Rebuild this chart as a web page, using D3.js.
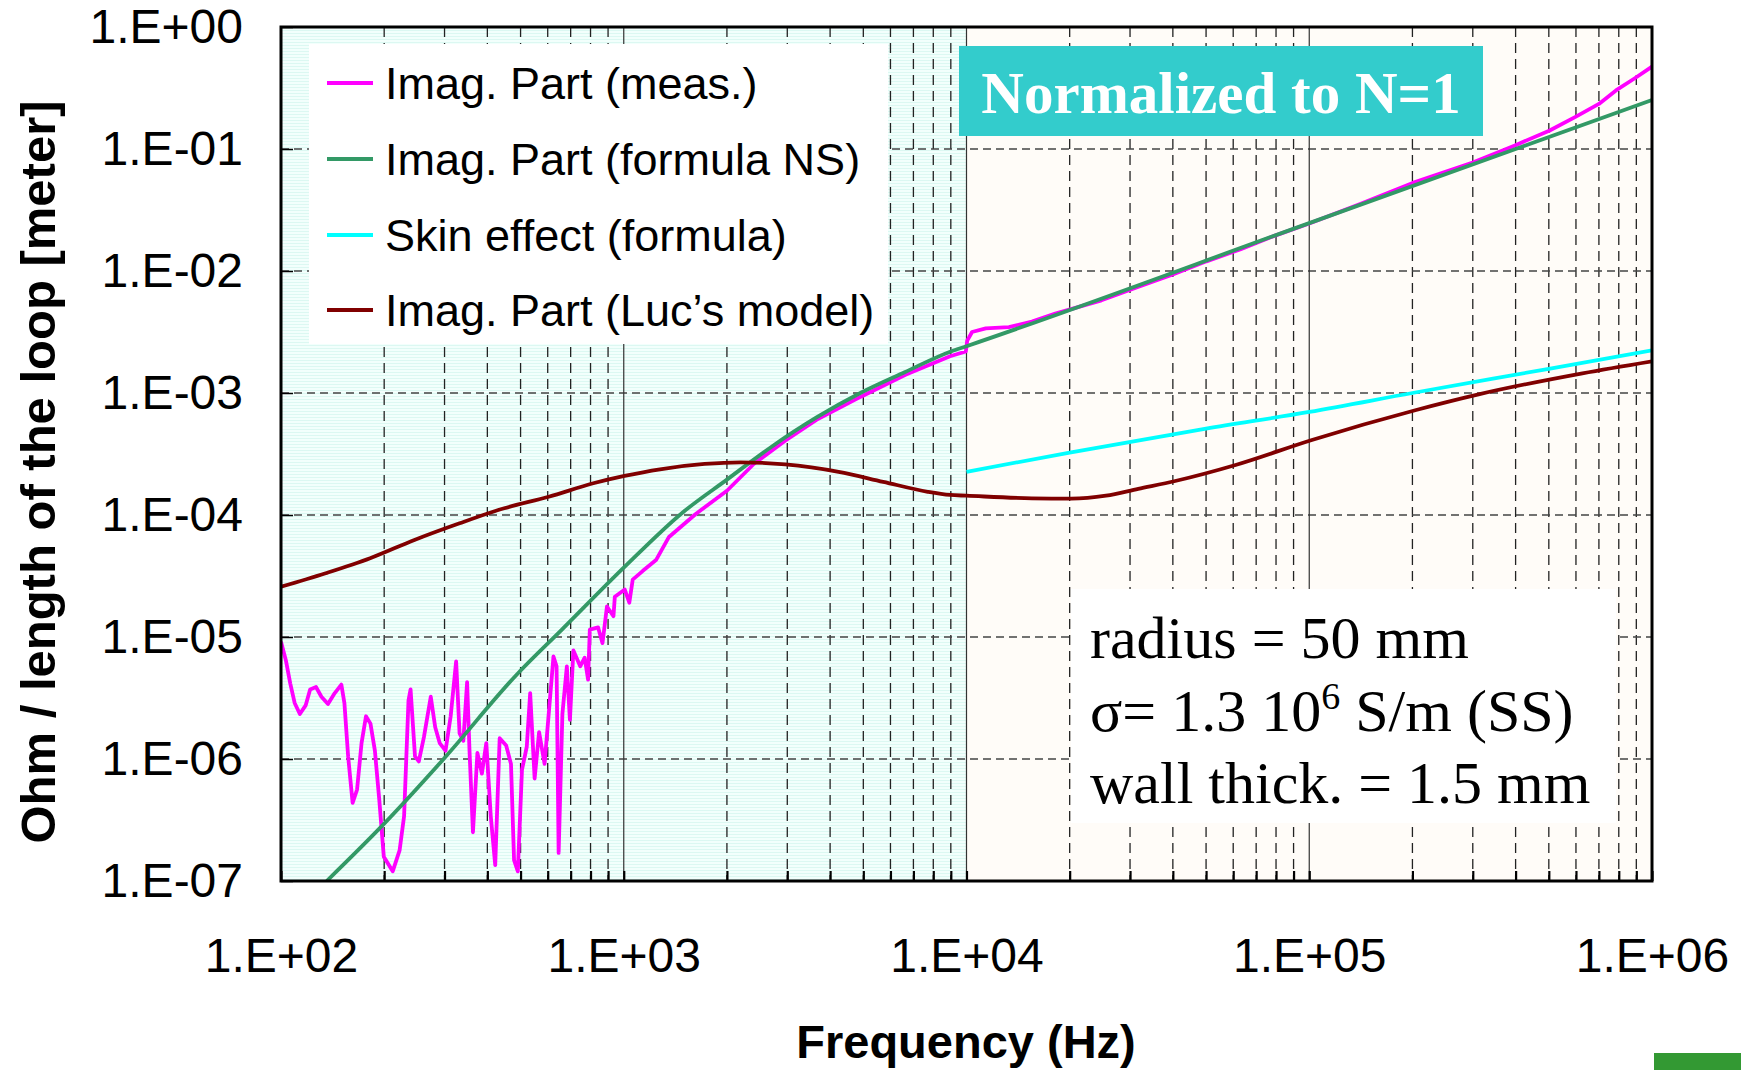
<!DOCTYPE html>
<html>
<head>
<meta charset="utf-8">
<script src="https://cdn.jsdelivr.net/npm/d3@7"></script>
<style>
  body { margin: 0; background: #fff; }
  svg { display: block; }
</style>
</head>
<body>
<script>
// Imag. Part (meas.)
var measFreq = [100, 103.3, 106.4, 109.6, 113.5, 118.0, 121.6, 126.5, 131.2, 137.1,
  143.5, 150.0, 153.1, 157.0, 161.8, 166.7, 171.8, 177.0, 182.4, 187.9,
  193.6, 199.5, 211.8, 221.8, 228.6, 235.5, 238.8, 246.0, 252.4, 261.2,
  273.5, 281.8, 290.4, 302.0, 312.6, 324.3, 331.9, 340.4, 349.1, 354.8,
  363.1, 374.1, 385.5, 397.2, 409.3, 421.7, 434.5, 453.9, 468.8, 478.6,
  490.9, 504.7, 521.2, 533.3, 549.5, 566.2, 587.5, 605.3, 623.7, 636.8,
  645.7, 662.2, 682.3, 696.6, 712.9, 746.4, 769.1, 787.0, 796.2, 841.4,
  867.0, 893.3, 933.3, 941.9, 1007, 1038, 1062, 1135, 1242, 1355,
  1622, 2000, 2399, 2958, 3648, 4920, 6637, 8954, 9954, 10050,
  10380, 11380, 13300, 15520, 18160, 24770, 31620, 39810, 50120, 63100,
  79430, 100000, 141300, 199500, 300000, 398100, 501200, 600000, 700000, 785000,
  891000, 1000000];
var measVal = [9.16e-6, 6.46e-6, 4.17e-6, 2.88e-6, 2.34e-6, 2.75e-6, 3.72e-6, 3.89e-6, 3.24e-6, 2.82e-6,
  3.47e-6, 4.07e-6, 2.88e-6, 1.05e-6, 4.37e-7, 5.62e-7, 1.35e-6, 2.24e-6, 1.95e-6, 1.17e-6,
  4.57e-7, 1.58e-7, 1.20e-7, 1.78e-7, 3.39e-7, 3.02e-6, 3.72e-6, 1.05e-6, 9.55e-7, 1.51e-6,
  3.24e-6, 1.82e-6, 1.35e-6, 1.17e-6, 2.24e-6, 6.31e-6, 1.62e-6, 1.41e-6, 4.27e-6, 1.17e-6,
  2.51e-7, 1.12e-6, 7.59e-7, 1.35e-6, 3.39e-7, 1.35e-7, 1.48e-6, 1.29e-6, 9.12e-7, 1.48e-7,
  1.20e-7, 8.13e-7, 1.26e-6, 3.47e-6, 6.92e-7, 1.66e-6, 9.12e-7, 2.51e-6, 6.92e-6, 5.75e-6,
  1.70e-7, 2.34e-6, 5.75e-6, 2.09e-6, 7.76e-6, 5.75e-6, 6.76e-6, 4.47e-6, 1.15e-5, 1.20e-5,
  8.91e-6, 1.78e-5, 1.48e-5, 2.14e-5, 2.45e-5, 1.91e-5, 2.95e-5, 3.47e-5, 4.27e-5, 6.61e-5,
  1.02e-4, 1.58e-4, 2.63e-4, 4.07e-4, 6.03e-4, 9.33e-4, 1.41e-3, 2.00e-3, 2.19e-3, 2.69e-3,
  3.16e-3, 3.39e-3, 3.47e-3, 3.85e-3, 4.47e-3, 5.75e-3, 7.41e-3, 9.33e-3, 1.20e-2, 1.51e-2,
  1.95e-2, 2.45e-2, 3.55e-2, 5.25e-2, 7.76e-2, 0.107, 0.141, 0.184, 0.234, 0.302,
  0.380, 0.473];

// Imag. Part (formula NS)
var nsFreq = [136, 200, 300, 490, 660, 1000, 1486, 2000, 2700, 3650, 4900, 6600, 9000, 10000, 100000, 1000000];
var nsVal = [1.0e-7, 2.95e-7, 1.02e-6, 5.0e-6, 1.15e-5, 3.7e-5, 1.05e-4, 1.95e-4, 3.63e-4, 6.3e-4, 1.0e-3, 1.48e-3, 2.19e-3, 2.42e-3, 2.47e-2, 0.252];

// Skin effect (formula)
var skinFreq = [10000, 20000, 50000, 100000, 200000, 500000, 1000000];
var skinVal = [2.26e-4, 3.25e-4, 5.1e-4, 7.0e-4, 1.0e-3, 1.58e-3, 2.24e-3];

// Imag. Part (Luc's model)
var lucFreq = [100, 135, 182, 245, 332, 448, 604, 815, 1005, 1276,
  1722, 2193, 2958, 4236, 5715, 7709, 8954, 10000, 15520, 20230,
  25530, 31700, 40650, 60950, 101800, 205100, 311900, 626600, 1000000];
var lucVal = [2.58e-5, 3.33e-5, 4.42e-5, 6.24e-5, 8.55e-5, 1.135e-4, 1.41e-4, 1.82e-4, 2.09e-4, 2.37e-4,
  2.62e-4, 2.70e-4, 2.60e-4, 2.26e-4, 1.87e-4, 1.55e-4, 1.46e-4, 1.44e-4, 1.37e-4, 1.36e-4,
  1.44e-4, 1.64e-4, 1.90e-4, 2.57e-4, 4.12e-4, 7.26e-4, 9.75e-4, 1.45e-3, 1.82e-3];

var seriesNames = ['Imag. Part (meas.)', 'Imag. Part (formula NS)', 'Skin effect (formula)', 'Imag. Part (Luc\u2019s model)'];
var seriesColors = ['#ff00ff', '#339966', '#00ffff', '#800000'];

var xDomain = [1e2, 1e6],
  yDomain = [1e-7, 1];
var splitFreq = 1e4; // shading changes at 10 kHz

var annotationLines = ['radius = 50 mm', 'wall thick. = 1.5 mm'];

var margin = { top: 27, right: 89, bottom: 189, left: 281 },
  width = 1741 - margin.left - margin.right,
  height = 1070 - margin.top - margin.bottom;

var sans = '"Liberation Sans", Arial, sans-serif',
  serif = '"Liberation Serif", "Times New Roman", serif';

var svgRoot = d3
  .select('body')
  .append('svg')
  .attr('width', 1741)
  .attr('height', 1070);

var defs = svgRoot.append('defs');
var stripes = defs
  .append('pattern')
  .attr('id', 'stripes')
  .attr('patternUnits', 'userSpaceOnUse')
  .attr('width', 8)
  .attr('height', 3);
stripes.append('rect').attr('width', 8).attr('height', 3).attr('fill', '#f2fffc');
stripes.append('rect').attr('width', 8).attr('height', 1).attr('fill', '#dcf8f2');

defs
  .append('clipPath')
  .attr('id', 'plotclip')
  .append('rect')
  .attr('width', width)
  .attr('height', height);

var svg = svgRoot
  .append('g')
  .attr('transform', 'translate(' + margin.left + ',' + margin.top + ')');

var x = d3.scaleLog().domain(xDomain).range([0, width]);
var y = d3.scaleLog().domain(yDomain).range([height, 0]);

// background shading
svg
  .append('rect')
  .attr('x', 0)
  .attr('y', 0)
  .attr('width', x(splitFreq))
  .attr('height', height)
  .attr('fill', 'url(#stripes)');
svg
  .append('rect')
  .attr('x', x(splitFreq))
  .attr('y', 0)
  .attr('width', width - x(splitFreq))
  .attr('height', height)
  .attr('fill', '#fffcf8');

// grid
var decadesX = [1e3, 1e4, 1e5];
var minorX = [];
for (var e = 2; e < 6; e++) {
  for (var m = 2; m <= 9; m++) minorX.push(m * Math.pow(10, e));
}
var decadesY = [1e-6, 1e-5, 1e-4, 1e-3, 1e-2, 1e-1];

var grid = svg.append('g').attr('class', 'grid');
grid
  .selectAll('line.minor')
  .data(minorX)
  .enter()
  .append('line')
  .attr('class', 'minor')
  .attr('x1', d => x(d))
  .attr('x2', d => x(d))
  .attr('y1', 0)
  .attr('y2', height)
  .attr('stroke', '#222')
  .attr('stroke-width', 1.3)
  .attr('stroke-dasharray', '10,6');
grid
  .selectAll('line.hgrid')
  .data(decadesY)
  .enter()
  .append('line')
  .attr('class', 'hgrid')
  .attr('x1', 0)
  .attr('x2', width)
  .attr('y1', d => y(d))
  .attr('y2', d => y(d))
  .attr('stroke', '#444')
  .attr('stroke-width', 1.5)
  .attr('stroke-dasharray', '8,5');
grid
  .selectAll('line.major')
  .data(decadesX)
  .enter()
  .append('line')
  .attr('class', 'major')
  .attr('x1', d => x(d))
  .attr('x2', d => x(d))
  .attr('y1', 0)
  .attr('y2', height)
  .attr('stroke', '#333')
  .attr('stroke-width', 1.2);

// white boxes over the grid
svg
  .append('rect')
  .attr('x', 309 - margin.left)
  .attr('y', 44 - margin.top)
  .attr('width', 579)
  .attr('height', 300)
  .attr('fill', '#fff');
svg
  .append('rect')
  .attr('x', 1071 - margin.left)
  .attr('y', 589 - margin.top)
  .attr('width', 545)
  .attr('height', 234)
  .attr('fill', '#fff');

// series
var series = [
  { f: measFreq, v: measVal, curve: d3.curveLinear },
  { f: nsFreq, v: nsVal, curve: d3.curveMonotoneX },
  { f: skinFreq, v: skinVal, curve: d3.curveMonotoneX },
  { f: lucFreq, v: lucVal, curve: d3.curveMonotoneX }
];

var plot = svg.append('g').attr('clip-path', 'url(#plotclip)');
series.forEach(function(s, i) {
  var pts = s.f.map(function(f, j) {
    return [f, s.v[j]];
  });
  var line = d3
    .line()
    .x(d => x(d[0]))
    .y(d => y(d[1]))
    .curve(s.curve);
  plot
    .append('path')
    .datum(pts)
    .attr('d', line)
    .attr('fill', 'none')
    .attr('stroke', seriesColors[i])
    .attr('stroke-width', 3.8)
    .attr('stroke-linejoin', 'round');
});

// axes
function sciLabel(d) {
  var ex = Math.round(Math.log10(d));
  var a = Math.abs(ex);
  return '1.E' + (ex < 0 ? '-' : '+') + (a < 10 ? '0' : '') + a;
}
function isDecade(d) {
  return Math.abs(Math.log10(d) - Math.round(Math.log10(d))) < 1e-9;
}

var xTicks = [1e2].concat(minorX, decadesX, [1e6]).sort((a, b) => a - b);
var xAxis = svg
  .append('g')
  .attr('transform', 'translate(0,' + height + ')')
  .call(
    d3
      .axisBottom(x)
      .tickValues(xTicks)
      .tickSizeInner(-10)
      .tickSizeOuter(0)
      .tickPadding(57)
      .tickFormat(d => (isDecade(d) ? sciLabel(d) : ''))
  );
xAxis.select('.domain').remove();
xAxis.selectAll('line').attr('stroke', '#000').attr('stroke-width', 2.2);
xAxis
  .selectAll('text')
  .attr('font-family', sans)
  .attr('font-size', 48)
  .attr('fill', '#000');

var yAxis = svg.append('g').call(
  d3
    .axisLeft(y)
    .tickValues([1e-7, 1e-6, 1e-5, 1e-4, 1e-3, 1e-2, 1e-1, 1])
    .tickSizeInner(-12)
    .tickSizeOuter(0)
    .tickPadding(38)
    .tickFormat(sciLabel)
);
yAxis.select('.domain').remove();
yAxis.selectAll('line').attr('stroke', '#000').attr('stroke-width', 1.5);
yAxis
  .selectAll('text')
  .attr('font-family', sans)
  .attr('font-size', 48)
  .attr('fill', '#000');

// plot frame
svg
  .append('rect')
  .attr('width', width)
  .attr('height', height)
  .attr('fill', 'none')
  .attr('stroke', '#000')
  .attr('stroke-width', 3);

// axis titles
svgRoot
  .append('text')
  .attr('x', 966)
  .attr('y', 1058)
  .attr('text-anchor', 'middle')
  .attr('font-family', sans)
  .attr('font-weight', 'bold')
  .attr('font-size', 47)
  .text('Frequency (Hz)');
svgRoot
  .append('text')
  .attr('transform', 'translate(55,472) rotate(-90)')
  .attr('text-anchor', 'middle')
  .attr('font-family', sans)
  .attr('font-weight', 'bold')
  .attr('font-size', 49)
  .text('Ohm / length of the loop [meter]');

// legend
var legend = svgRoot.append('g').attr('class', 'legend');
var legendRows = [83, 159, 235, 310];
seriesNames.forEach(function(name, i) {
  legend
    .append('line')
    .attr('x1', 327)
    .attr('x2', 373)
    .attr('y1', legendRows[i])
    .attr('y2', legendRows[i])
    .attr('stroke', seriesColors[i])
    .attr('stroke-width', 4);
  legend
    .append('text')
    .attr('x', 385)
    .attr('y', legendRows[i] + 16)
    .attr('font-family', sans)
    .attr('font-size', 45)
    .text(name);
});

// "Normalized to N=1" label
svgRoot
  .append('rect')
  .attr('x', 959)
  .attr('y', 46)
  .attr('width', 524)
  .attr('height', 90)
  .attr('fill', '#33cccc');
svgRoot
  .append('text')
  .attr('x', 1221)
  .attr('y', 113)
  .attr('text-anchor', 'middle')
  .attr('font-family', serif)
  .attr('font-weight', 'bold')
  .attr('font-size', 59)
  .attr('fill', '#fff')
  .text('Normalized to N=1');

// parameters box
var ann = svgRoot
  .append('g')
  .attr('font-family', serif)
  .attr('font-size', 60)
  .attr('fill', '#000');
ann.append('text').attr('x', 1090).attr('y', 658).text(annotationLines[0]);
var sig = ann.append('text').attr('x', 1090).attr('y', 731);
sig.append('tspan').text('\u03c3= 1.3 10');
sig
  .append('tspan')
  .attr('dy', -22)
  .attr('font-size', 38)
  .text('6');
sig
  .append('tspan')
  .attr('dy', 22)
  .text(' S/m (SS)');
ann.append('text').attr('x', 1090).attr('y', 803).text(annotationLines[1]);

// green tab, bottom right
svgRoot
  .append('rect')
  .attr('x', 1654)
  .attr('y', 1053)
  .attr('width', 87)
  .attr('height', 17)
  .attr('fill', '#339933');
</script>
</body>
</html>
